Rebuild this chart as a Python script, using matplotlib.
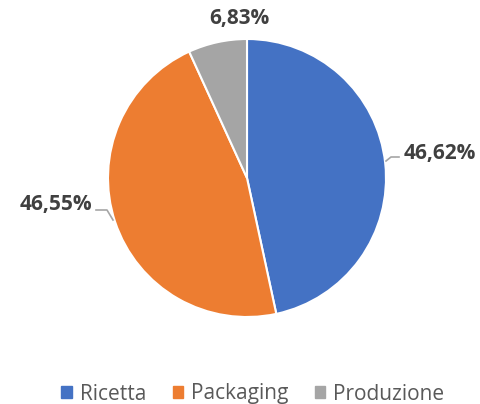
import matplotlib
matplotlib.use("Agg")
import matplotlib.pyplot as plt
import numpy as np

categories = ["Ricetta", "Packaging", "Produzione"]
values = [46.62, 46.55, 6.83]
labels = ["46,62%", "46,55%", "6,83%"]
colors = ["#4472C4", "#ED7D31", "#A5A5A5"]

plt.rcParams['font.family'] = ['Open Sans', 'DejaVu Sans']

W, H = 480, 404
fig = plt.figure(figsize=(W / 100, H / 100), dpi=100)
cx, cy, r = 247, 178, 139
ax = fig.add_axes([(cx - r) / W, (H - cy - r) / H, 2 * r / W, 2 * r / H])
wedges, _ = ax.pie(values, colors=colors, startangle=90, counterclock=False,
                   radius=1, wedgeprops=dict(edgecolor="white", linewidth=1.5))
ax.set_xlim(-1, 1)
ax.set_ylim(-1, 1)
ax.set_aspect("equal")
ax.axis("off")

# label positions in axes data units (radius = 1)
def px(x, y):
    return ((x - cx) / r, (cy - y) / r)

label_pos = [px(440, 153), px(56, 204), px(239, 18)]
for lab, pos in zip(labels, label_pos):
    ax.text(pos[0], pos[1], lab, ha="center", va="center", fontsize=15,
            fontweight="bold", color="#404040", clip_on=False)

# leader lines
lc = "#A6A6A6"
for pts in ([px(386, 161), px(391, 157), px(399, 157)],
            [px(96, 210), px(107, 210), px(113, 220)]):
    xs, ys = zip(*pts)
    ax.plot(xs, ys, color=lc, lw=1.2, clip_on=False)

handles = [plt.Rectangle((0, 0), 1, 1, color=c) for c in colors]
fig.legend(handles, categories, loc="center", bbox_to_anchor=(253 / W, 1 - 394 / H),
           ncol=3, frameon=False, fontsize=15, handlelength=0.5, handleheight=0.5,
           handletextpad=0.4, columnspacing=1.25, labelcolor="#595959")

fig.savefig("out.png", dpi=100)
